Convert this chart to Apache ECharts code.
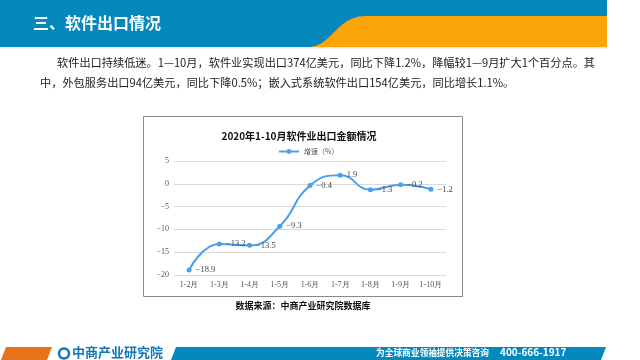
<!DOCTYPE html>
<html><head><meta charset="utf-8">
<script src="https://cdn.jsdelivr.net/npm/echarts@6/dist/echarts.min.js"></script>
<style>html,body{margin:0;padding:0;background:#fff}#c{width:640px;height:360px}</style>
</head><body><div id="c"></div>
<script>
const categories = ['1-2月','1-3月','1-4月','1-5月','1-6月','1-7月','1-8月','1-9月','1-10月'];
const growth = [-18.9, -13.2, -13.5, -9.3, -0.4, 1.9, -1.3, -0.2, -1.2];
const yTicks = {min: -20, max: 5, interval: 5};
const seriesName = '增速（%）';
const chartTitle = '2020年1-10月软件业出口金额情况';
const pageTitle = '三、软件出口情况';
const para1 = '软件出口持续低迷。1—10月，软件业实现出口374亿美元，同比下降1.2%，降幅较1—9月扩大1个百分点。其';
const para2 = '中，外包服务出口94亿美元，同比下降0.5%；嵌入式系统软件出口154亿美元，同比增长1.1%。';
const sourceText = '数据来源：中商产业研究院数据库';

const chart = echarts.init(document.getElementById('c'), null, {renderer:'canvas'});
const serif = '"Liberation Serif","DejaVu Serif",serif';
const cjk = '"Noto Sans CJK SC","Noto Sans",sans-serif';
const fmt = v => (v < 0 ? '\u2212' + Math.abs(v) : String(v));

function bez(p0,p1,p2,p3,n){const pts=[];for(let i=0;i<=n;i++){const t=i/n,u=1-t;
  pts.push([u*u*u*p0[0]+3*u*u*t*p1[0]+3*u*t*t*p2[0]+t*t*t*p3[0], u*u*u*p0[1]+3*u*u*t*p1[1]+3*u*t*t*p2[1]+t*t*t*p3[1]]);}return pts;}
const orangePts = bez([308,47],[332,47],[336,16],[366,16],20).concat([[607,16],[607,47]]);

chart.setOption({
  animation: false,
  graphic: [
    {type:'rect', shape:{x:0,y:0,width:607,height:47}, style:{fill:'#0588bc'}, z:0},
    {type:'polygon', shape:{points:orangePts}, style:{fill:'#fba50a'}, z:1},
    {type:'rect', shape:{x:0,y:47,width:607,height:1.5}, style:{fill:'#dfe9ee'}, z:1},
    {type:'text', x:33, y:15, style:{text:pageTitle, fill:'#fff', font:'bold 16px '+cjk}, z:2},
    {type:'text', x:57, y:57, style:{text:para1, fill:'#222', font:'11.2px '+cjk}, z:2},
    {type:'text', x:40, y:77, style:{text:para2, fill:'#222', font:'11.2px '+cjk}, z:2},
    {type:'rect', shape:{x:143.5,y:116.5,width:319,height:180}, style:{fill:'none', stroke:'#8a8a8a', lineWidth:1}, z:1},
    {type:'text', x:303, y:301, style:{text:sourceText, fill:'#111', font:'bold 9px '+cjk, align:'center'}, z:2},
    {type:'polygon', shape:{points:[[6,347],[52,347],[47,360],[1,360]]}, style:{fill:'#e8731a'}, z:1},
    {type:'text', x:72, y:346, style:{text:'中商产业研究院', fill:'#0d77b8', font:'bold 13px '+cjk}, z:2},
    {type:'circle', shape:{cx:64,cy:353.5,r:5}, style:{fill:'none', stroke:'#0d77b8', lineWidth:2.5}, z:2},
    {type:'polygon', shape:{points:[[176,347],[606,347],[601,360],[171,360]]}, style:{fill:'#0588bc'}, z:1},
    {type:'text', x:376, y:348, style:{text:'为全球商业领袖提供决策咨询', fill:'#fff', font:'bold 8.7px '+cjk}, z:2},
    {type:'text', x:500, y:347.5, style:{text:'400-666-1917', fill:'#fff', font:'bold 10px '+cjk}, z:2}
  ],
  title: {text: chartTitle, left: 294, top: 126, textAlign:'center',
    textStyle:{fontSize:10, fontWeight:'bold', color:'#111', fontFamily:cjk}},
  legend: {data:[seriesName], top: 143, left: 273, itemWidth:20, itemHeight:6, itemGap:4,
    textStyle:{fontSize:7, color:'#555', fontFamily:cjk}},
  grid: {left:174, right:194, top:161, bottom:85},
  xAxis: {type:'category', data:categories, boundaryGap:true,
    axisLine:{show:false}, axisTick:{show:false},
    axisLabel:{fontSize:8, color:'#555', fontFamily:serif, margin:6}},
  yAxis: {type:'value', min:yTicks.min, max:yTicks.max, interval:yTicks.interval,
    axisLine:{show:false}, axisTick:{show:false},
    splitLine:{lineStyle:{color:'#d9d9d9'}},
    axisLabel:{fontSize:8, color:'#555', fontFamily:serif, margin:5, formatter: v => fmt(v)}},
  series: [{
    name: seriesName, type:'line', data: growth, smooth:true,
    symbol:'circle', symbolSize:5,
    lineStyle:{color:'#4a9ff0', width:2}, itemStyle:{color:'#4a9ff0'},
    label:{show:true, position:'right', distance:4, fontSize:8.5, color:'#444', fontFamily:serif,
      formatter: p => fmt(p.value)}
  }]
});
</script></body></html>
